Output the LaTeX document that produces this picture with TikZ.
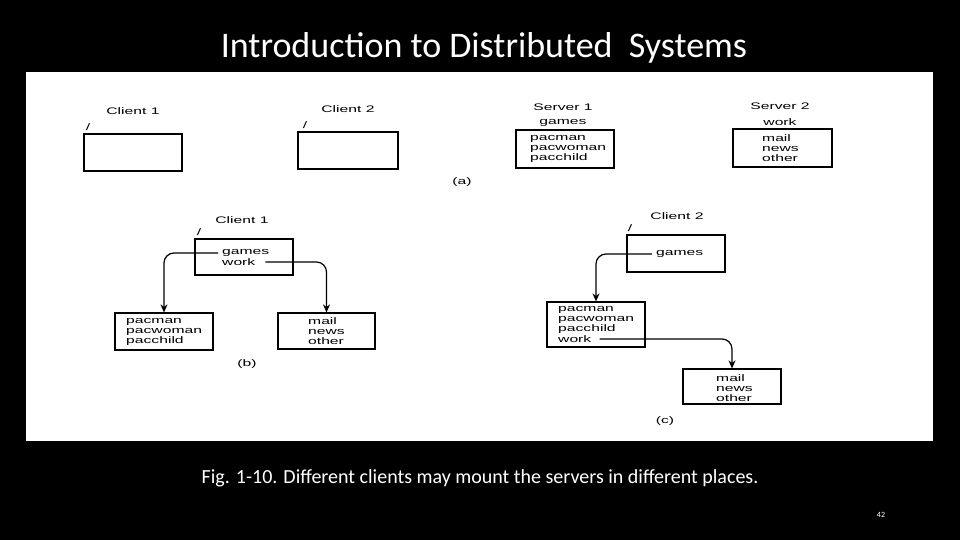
\documentclass[tikz,border=0pt]{standalone}
\usepackage{fontspec}
\setmainfont{Carlito}
\newfontfamily\figfont[FakeStretch=1.65]{Liberation Sans}
\usetikzlibrary{arrows.meta}

\begin{document}
\begin{tikzpicture}[
    x=1pt, y=-1pt,
    box/.style={draw, line width=1.2pt, inner sep=0pt},
    txt/.style={font=\figfont\fontsize{9.5}{10}\selectfont, inner sep=0pt, anchor=west, align=left},
    lbl/.style={font=\figfont\fontsize{9.5}{10}\selectfont, inner sep=0pt},
    mount/.style={
        line width=1.2pt,
        rounded corners=10pt,
        -{Stealth[length=8pt,width=7pt]}
    }
]
\fill[black] (0,0) rectangle (960,540);
\fill[white] (26,72) rectangle (933,441);

\node[text=white, font=\fontsize{36}{40}\selectfont] (title) at (484,48) {Introduction to Distributed\ \ Systems};
\node[text=white, font=\fontsize{20}{24}\selectfont] (cap) at (480,478) {Fig. 1-10. Different clients may mount the servers in different places.};
\node[text=white, font=\fontsize{8}{10}\selectfont] (pg) at (881,515) {42};

\begin{scope}

\node[box, minimum width=98pt, minimum height=37pt] (c1) at (133,152.5) {};
\node[box, minimum width=100pt, minimum height=37pt] (c2) at (348,150.5) {};
\node[box, minimum width=98pt, minimum height=38pt] (s1) at (565,149) {};
\node[box, minimum width=99pt, minimum height=38pt] (s2) at (782.5,148) {};

\node[lbl] (c1n) at (133,111) {Client 1};
\node[lbl] (c2n) at (348,109) {Client 2};
\node[lbl] (s1n) at (563,107) {Server 1};
\node[lbl] (s2n) at (780,106) {Server 2};
\node[lbl] (s1r) at (563,123) {games};
\node[lbl] (s2r) at (780,122) {work};

\node[lbl] (c1s) at (88,127) {/};
\node[lbl] (c2s) at (305,125) {/};

\node[txt] (s1t) at (530,149) {pacman\\pacwoman\\pacchild};
\node[txt] (s2t) at (762,148) {mail\\news\\other};

\node[lbl] (pa) at (462,182) {(a)};

\end{scope}

\begin{scope}

\node[box, minimum width=98pt, minimum height=36pt] (cb) at (244,257) {};
\node[box, minimum width=98pt, minimum height=37pt] (pb) at (164,331.5) {};
\node[box, minimum width=97pt, minimum height=36pt] (mb) at (326.5,331) {};

\node[lbl] (cbn) at (242,220) {Client 1};
\node[lbl] (cbs) at (199,232) {/};

\node[txt] (gb) at (222,253) {games};
\node[txt] (wb) at (222,262) {work};

\node[txt] (pbt) at (126,331.5) {pacman\\pacwoman\\pacchild};
\node[txt] (mbt) at (308,331) {mail\\news\\other};

\draw[mount] ([xshift=-4pt]gb.west) -| (pb.north);
\draw[mount] ([xshift=10pt]wb.east) -| (mb.north);

\node[lbl] (pbl) at (247,364) {(b)};

\end{scope}

\begin{scope}

\node[box, minimum width=98pt, minimum height=37pt] (cc) at (676,253.5) {};
\node[box, minimum width=98pt, minimum height=45pt] (pc) at (596,324.5) {};
\node[box, minimum width=98pt, minimum height=35pt] (mc) at (732,386.5) {};

\node[lbl] (ccn) at (677,216) {Client 2};
\node[lbl] (ccs) at (630,228) {/};

\node[txt] (gc) at (656,254) {games};

\node[txt] (pct) at (558,319.5) {pacman\\pacwoman\\pacchild};
\node[txt] (wc) at (558,339) {work};
\node[txt] (mct) at (716,388) {mail\\news\\other};

\draw[mount] ([xshift=-4pt]gc.west) -| (pc.north);
\draw[mount] ([xshift=8pt]wc.east) -| (mc.north);

\node[lbl] (pcl) at (665,421) {(c)};

\end{scope}
\end{tikzpicture}
\end{document}
